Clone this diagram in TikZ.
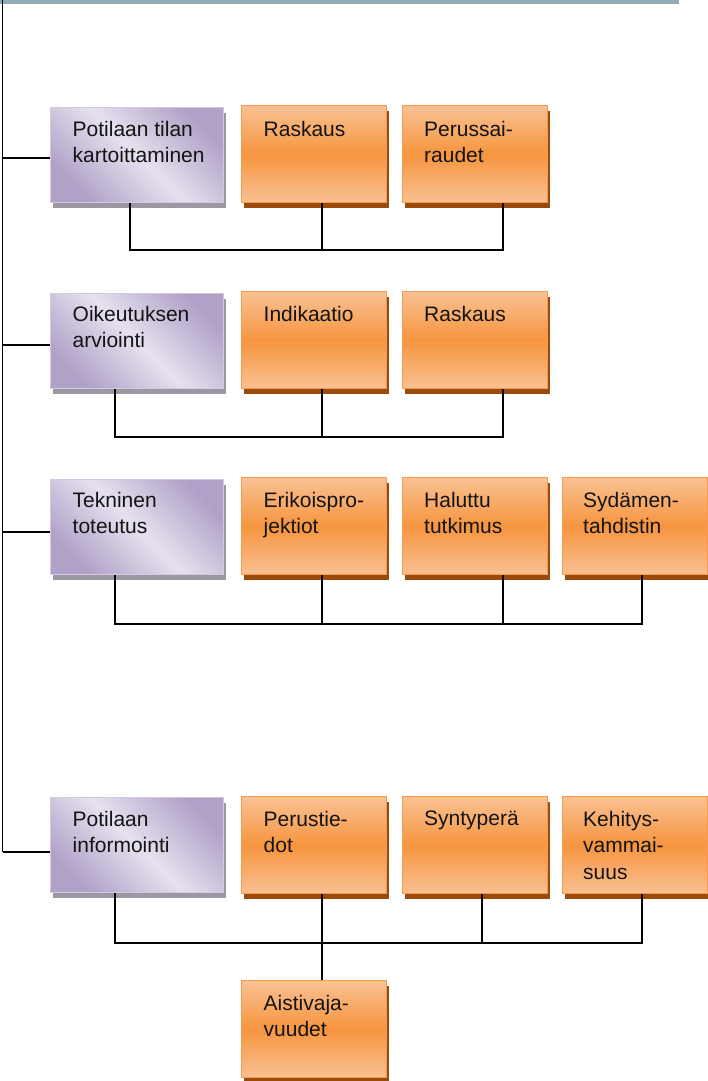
\documentclass[tikz,border=0pt]{standalone}
\usepackage{fontspec}
\setmainfont{Liberation Sans}
\usetikzlibrary{shadows}
\definecolor{barcol}{HTML}{93ADB7}
\definecolor{pdark}{HTML}{B0A1C8}
\definecolor{plight}{HTML}{E6E1EE}
\definecolor{pborder}{HTML}{D3CAE2}
\definecolor{pshadow}{HTML}{9C97A3}
\definecolor{olight}{HTML}{F9C193}
\definecolor{omid}{HTML}{F6953F}
\definecolor{oborder}{HTML}{F79A4D}
\definecolor{oshadow}{HTML}{9A4A0A}
\definecolor{txt}{HTML}{141414}
\begin{document}
\begin{tikzpicture}[x=1pt,y=-1pt,
  pbox/.style={rectangle, draw=pborder, line width=1.2pt, inner sep=0pt,
    minimum width=173pt, minimum height=95pt, anchor=north west,
    left color=pdark, right color=pdark, middle color=plight, shading angle=135,
    general shadow={fill=pshadow, shadow xshift=2.5pt, shadow yshift=-5pt}},
  obox/.style={rectangle, draw=oborder, line width=1.4pt, inner sep=0pt,
    minimum width=145pt, minimum height=97pt, anchor=north west,
    top color=olight, bottom color=olight, middle color=omid,
    general shadow={fill=oshadow, shadow xshift=2.5pt, shadow yshift=-5pt}},
  lbl/.style={anchor=north west, inner sep=0pt, align=left, text=txt,
    font=\fontsize{21}{26.5}\selectfont},
  conn/.style={draw=black, line width=1.6pt}
]
\useasboundingbox (0,0) rectangle (707,1081);
% top bar
\fill[barcol] (0,0) rectangle (679,4);
% main vertical line
\coordinate (top) at (2.5,0);
\coordinate (bot) at (2.5,852);
\draw[conn] (top) -- (bot);

% ---------- Row 1 ----------
\node[pbox] (p1) at (50,107) {};
\node[obox] (r1a) at (241,105) {};
\node[obox] (r1b) at (402,105) {};
\node[lbl] (p1t) at (72.5,121) {Potilaan tilan\\kartoittaminen};
\node[lbl] (r1at) at (263.5,121) {Raskaus};
\node[lbl] (r1bt) at (424,121) {Perussai-\\raudet};
\coordinate (h1) at (2.5,158);
\draw[conn] (h1) -- (p1.west |- h1);
\draw[conn] (p1.south -| 130,0) -- (130,250) -- (503,250) -- (r1b.south -| 503,0);
\draw[conn] (322,250) -- (r1a.south -| 322,0);

% ---------- Row 2 ----------
\node[pbox] (p2) at (50,293) {};
\node[obox] (r2a) at (241,291) {};
\node[obox] (r2b) at (402,291) {};
\node[lbl] (p2t) at (72.5,306) {Oikeutuksen\\arviointi};
\node[lbl] (r2at) at (263.5,306) {Indikaatio};
\node[lbl] (r2bt) at (424,306) {Raskaus};
\coordinate (h2) at (2.5,345);
\draw[conn] (h2) -- (p2.west |- h2);
\draw[conn] (p2.south -| 115,0) -- (115,437) -- (503,437) -- (r2b.south -| 503,0);
\draw[conn] (322,437) -- (r2a.south -| 322,0);

% ---------- Row 3 ----------
\node[pbox] (p3) at (50,479) {};
\node[obox] (r3a) at (241,477) {};
\node[obox] (r3b) at (402,477) {};
\node[obox] (r3c) at (562,477) {};
\node[lbl] (p3t) at (72.5,492) {Tekninen\\toteutus};
\node[lbl] (r3at) at (263.5,492) {Erikoispro-\\jektiot};
\node[lbl] (r3bt) at (424,492) {Haluttu\\tutkimus};
\node[lbl] (r3ct) at (583,492) {Sydämen-\\tahdistin};
\coordinate (h3) at (2.5,532);
\draw[conn] (h3) -- (p3.west |- h3);
\draw[conn] (p3.south -| 115,0) -- (115,624) -- (642,624) -- (r3c.south -| 642,0);
\draw[conn] (322,624) -- (r3a.south -| 322,0);
\draw[conn] (503,624) -- (r3b.south -| 503,0);

% ---------- Row 4 ----------
\node[pbox] (p4) at (50,797) {};
\node[obox] (r4a) at (241,796) {};
\node[obox] (r4b) at (402,796) {};
\node[obox] (r4c) at (562,796) {};
\node[obox] (r5) at (241,980) {};
\node[lbl] (p4t) at (72.5,811) {Potilaan\\informointi};
\node[lbl] (r4at) at (263.5,811) {Perustie-\\dot};
\node[lbl] (r4bt) at (424,811) {Syntyperä};
\node[lbl] (r4ct) at (583,811) {Kehitys-\\vammai-\\suus};
\node[lbl] (r5t) at (263.5,995) {Aistivaja-\\vuudet};
\draw[conn] (bot) -- (p4.west |- bot);
\draw[conn] (p4.south -| 115,0) -- (115,943) -- (642,943) -- (r4c.south -| 642,0);
\draw[conn] (r4a.south -| 322,0) -- (r5.north -| 322,0);
\draw[conn] (482,943) -- (r4b.south -| 482,0);
\end{tikzpicture}
\end{document}
